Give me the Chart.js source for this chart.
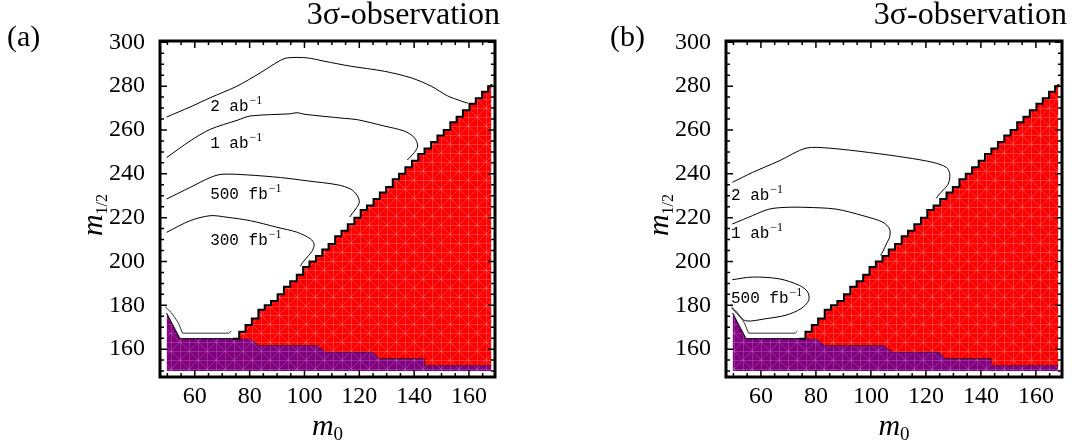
<!DOCTYPE html>
<html><head><meta charset="utf-8">
<script src="https://cdn.jsdelivr.net/npm/chart.js@4.4.0/dist/chart.umd.min.js"></script>
<style>
html,body{margin:0;padding:0;background:#fff;overflow:hidden;}
#wrapA{position:absolute;left:0;top:0;width:545px;height:443px;}
#wrapB{position:absolute;left:545px;top:0;width:532px;height:443px;}
</style></head><body>
<div id="wrapA"><canvas id="cA" width="545" height="443"></canvas></div>
<div id="wrapB"><canvas id="cB" width="532" height="443"></canvas></div>
<script>
// ---- axis ticks ----
const xTickVals = [60, 80, 100, 120, 140, 160];
const yTickVals = [160, 180, 200, 220, 240, 260, 280, 300];

// ---- excluded regions (shared by both panels) ----
const purpleX = [49.7, 52.0, 54.6, 80.3, 83.3, 104.7, 107.7, 124.8, 127.3, 143.8, 144.0, 168.2];
const purpleY = [176.5, 171.0, 164.8, 164.8, 161.8, 161.8, 158.8, 158.8, 155.8, 155.8, 152.7, 152.7];

const redX = [73.9, 76.2, 78.5, 80.8, 83.2, 85.5, 87.8, 90.2, 92.5, 94.8, 97.2, 99.5, 101.8, 104.2,
  106.5, 108.8, 111.2, 113.5, 115.8, 118.2, 120.5, 122.8, 125.2, 127.5, 129.8, 132.2, 134.5, 136.8,
  139.2, 141.5, 143.8, 146.2, 148.5, 150.8, 153.2, 155.5, 157.8, 160.2, 162.5, 164.8, 167.0, 168.2];
const redY = [164.8, 168, 171, 174, 178, 180, 182, 185, 188.5, 191, 194, 197.5, 200, 202.5,
  205.5, 208, 211.5, 214, 217, 220, 223.5, 225.5, 228.5, 231.5, 234, 237.5, 240, 243,
  246, 249, 251.5, 254.5, 257.5, 260, 263.5, 266, 269, 272, 274.5, 277.5, 280, 281];

// thin contour hugging the bottom of the allowed region
const hugX = [49.2, 51.5, 54.0, 55.5, 72.5, 73.3];
const hugY = [179.3, 176.6, 172.0, 167.3, 167.3, 168.3];

// ---- panel (a) contours ----
const a2abX = [49.7, 58.3, 65.6, 75.4, 83.9, 90.7, 93.7, 101.0, 107.1, 116.9, 129.1, 138.9, 146.2, 152.3, 157.2, 159.6];
const a2abY = [265.9, 270.5, 274.7, 280.0, 286.1, 291.4, 292.9, 292.9, 291.4, 289.1, 286.8, 283.8, 280.0, 275.5, 273.2, 272.2];
const a1abX = [49.7, 58.3, 65.6, 75.4, 80.3, 94.9, 97.4, 99.8, 114.5, 119.3, 129.1, 136.4, 140.1, 141.3, 140.1, 138.5, 137.5];
const a1abY = [247.4, 255.0, 260.3, 264.4, 266.4, 267.4, 267.9, 267.2, 265.3, 264.7, 261.8, 259.5, 256.5, 252.7, 249.7, 247.6, 246.3];
const a500X = [49.7, 58.3, 65.6, 69.9, 79.1, 91.3, 101.0, 112.0, 116.9, 119.3, 120.0, 118.7, 117.5, 116.5];
const a500Y = [228.5, 233.8, 238.3, 239.8, 239.5, 238.3, 236.8, 235.0, 233.0, 230.0, 227.0, 224.0, 222.0, 220.3];
const a300X = [49.7, 58.3, 65.6, 71.7, 80.3, 90.0, 97.4, 102.2, 103.5, 102.9, 101.0, 99.3, 98.5];
const a300Y = [213.3, 218.6, 220.9, 220.2, 218.6, 215.6, 213.3, 210.3, 208.0, 205.0, 202.0, 199.5, 197.8];

// ---- panel (b) contours ----
const b2abX = [49.6, 56.9, 66.6, 76.4, 84.9, 99.5, 112.9, 122.6, 127.5, 128.7, 128.1, 126.3, 124.6, 123.8];
const b2abY = [236.1, 240.6, 245.9, 251.7, 251.7, 249.7, 247.4, 245.2, 242.9, 239.8, 235.3, 232.6, 230.3, 228.8];
const b1abX = [49.6, 56.9, 63.0, 69.1, 76.4, 87.3, 97.1, 104.4, 106.8, 106.8, 105.6, 104.4, 103.5];
const b1abY = [217.1, 220.9, 223.9, 224.7, 224.7, 223.9, 220.9, 217.9, 214.8, 211.1, 208.0, 204.7, 202.8];
const b500X = [49.6, 56.9, 66.6, 74.0, 77.0, 77.4, 74.6, 69.1, 61.8, 54.5, 51.5, 49.4];
const b500Y = [191.7, 192.9, 192.1, 189.1, 186.1, 182.3, 178.5, 175.5, 173.9, 172.9, 176.0, 178.8];

// ---- contour labels ----
const labelsA = ['2 ab', '1 ab', '500 fb', '300 fb'];
const labelsAX = [65.6, 65.6, 65.6, 65.6];
const labelsAY = [271.1, 253.9, 230.7, 209.8];
const labelsB = ['2 ab', '1 ab', '500 fb'];
const labelsBX = [49.1, 49.1, 49.1];
const labelsBY = [230.5, 213.0, 183.4];

const pts = (xs, ys) => xs.map((x, i) => ({x: x, y: ys[i]}));

function makePattern(base, line) {
  const c = document.createElement('canvas'); c.width = 18; c.height = 18;
  const g = c.getContext('2d');
  g.fillStyle = base; g.fillRect(0, 0, 18, 18);
  g.strokeStyle = line; g.lineWidth = 1;
  g.beginPath();
  g.moveTo(0.5, 0); g.lineTo(0.5, 18); g.moveTo(9.5, 0); g.lineTo(9.5, 18);
  g.moveTo(0, 0.5); g.lineTo(18, 0.5); g.moveTo(0, 9.5); g.lineTo(18, 9.5);
  g.moveTo(0, 0); g.lineTo(18, 18); g.moveTo(18, 0); g.lineTo(0, 18);
  g.stroke();
  return g.createPattern(c, 'repeat');
}
const redPat = makePattern('#ff0000', 'rgba(255,120,120,0.45)');
const purPat = makePattern('#800080', 'rgba(190,110,190,0.4)');

const decor = {
  id: 'decor',
  afterDatasetsDraw(chart, args, o) {
    const ctx = chart.ctx, a = chart.chartArea, x = chart.scales.x, y = chart.scales.y;
    ctx.save();
    ctx.fillStyle = '#000';
    ctx.textAlign = 'left'; ctx.textBaseline = 'alphabetic';
    o.labels.forEach((t, i) => {
      const px = x.getPixelForValue(o.lx[i]), py = y.getPixelForValue(o.ly[i]) + 5;
      ctx.font = '16px "Liberation Mono"';
      ctx.fillText(t, px, py);
      const w = ctx.measureText(t).width;
      ctx.font = '12px "Liberation Serif"';
      ctx.fillText('\u22121', px + w + 1, py - 7);
    });
    // frame
    ctx.strokeStyle = '#000'; ctx.lineWidth = 3;
    ctx.strokeRect(a.left, a.top, a.right - a.left, a.bottom - a.top);
    // inward ticks on all sides
    ctx.lineWidth = 1.5;
    ctx.beginPath();
    for (let v = 50; v <= 165; v += 5) {
      const p = x.getPixelForValue(v), L = xTickVals.includes(v) ? 7 : 4;
      ctx.moveTo(p, a.bottom); ctx.lineTo(p, a.bottom - L);
      ctx.moveTo(p, a.top); ctx.lineTo(p, a.top + L);
    }
    for (let v = 150; v <= 300; v += 5) {
      const p = y.getPixelForValue(v), L = yTickVals.includes(v) ? 7 : 4;
      ctx.moveTo(a.left, p); ctx.lineTo(a.left + L, p);
      ctx.moveTo(a.right, p); ctx.lineTo(a.right - L, p);
    }
    ctx.stroke();
    // x tick labels
    ctx.font = '24px "Liberation Serif"';
    ctx.textAlign = 'center';
    xTickVals.forEach(v => ctx.fillText(String(v), x.getPixelForValue(v), 403));
    // panel letter and title
    ctx.font = '30px "Liberation Serif"';
    ctx.textAlign = 'left';
    ctx.fillText(o.letter, o.letterX, 46);
    ctx.font = '32px "Liberation Serif"';
    ctx.textAlign = 'right';
    ctx.fillText('3\u03c3-observation', o.titleRight, 24);
    // x-axis title m_0
    const cx = (a.left + a.right) / 2;
    ctx.font = 'italic 30px "Liberation Serif"';
    const mw = ctx.measureText('m').width;
    ctx.font = '19px "Liberation Serif"';
    const zw = ctx.measureText('0').width;
    const sx = cx - (mw + zw) / 2;
    ctx.textAlign = 'left';
    ctx.font = 'italic 30px "Liberation Serif"';
    ctx.fillText('m', sx, 435);
    ctx.font = '19px "Liberation Serif"';
    ctx.fillText('0', sx + mw, 440);
    // y-axis title m_{1/2}
    ctx.save();
    ctx.translate(o.yTitleX, 215);
    ctx.rotate(-Math.PI / 2);
    ctx.font = '16px "Liberation Serif"';
    const hw = ctx.measureText('1/2').width;
    const tot = mw + hw;
    ctx.font = 'italic 30px "Liberation Serif"';
    ctx.fillText('m', -tot / 2, 0);
    ctx.font = '16px "Liberation Serif"';
    ctx.fillText('1/2', -tot / 2 + mw, 5);
    ctx.restore();
    ctx.restore();
  }
};

function lineDS(xs, ys, color, width) {
  return {data: pts(xs, ys), borderColor: color, borderWidth: width, pointRadius: 0,
    fill: false, tension: 0.3, order: 0};
}

function makeChart(id, axisW, padRight, contours, cfg) {
  const datasets = [
    {data: pts(purpleX, purpleY), borderColor: '#000', borderWidth: 1, backgroundColor: purPat,
     fill: {value: 150}, pointRadius: 0, tension: 0, order: 3},
    {data: pts(redX, redY), borderColor: '#000', borderWidth: 2, backgroundColor: redPat,
     fill: 0, stepped: 'before', pointRadius: 0, tension: 0, order: 2},
    Object.assign(lineDS(hugX, hugY, '#333', 1), {tension: 0, order: 1})
  ].concat(contours);
  return new Chart(document.getElementById(id), {
    type: 'line',
    data: {datasets: datasets},
    options: {
      responsive: false, animation: false, events: [],
      layout: {padding: {left: 0, right: padRight, top: 41, bottom: 0}},
      plugins: {legend: {display: false}, tooltip: {enabled: false}, decor: cfg},
      scales: {
        x: {type: 'linear', min: 47.3, max: 169.5,
            afterBuildTicks: s => { s.ticks = xTickVals.map(v => ({value: v})); },
            afterFit: s => { s.height = 66; },
            grid: {display: false}, border: {display: false},
            ticks: {display: false}},
        y: {type: 'linear', min: 147.3, max: 300.6,
            afterBuildTicks: s => { s.ticks = yTickVals.map(v => ({value: v})); },
            afterFit: s => { s.width = axisW; },
            grid: {display: false}, border: {display: false},
            ticks: {color: '#000', padding: 7, autoSkip: false,
                    font: {family: 'Liberation Serif', size: 24}}}
      }
    },
    plugins: [decor]
  });
}

makeChart('cA', 160, 50, [
  lineDS(a2abX, a2abY, '#000', 1), lineDS(a1abX, a1abY, '#000', 1),
  lineDS(a500X, a500Y, '#000', 1), lineDS(a300X, a300Y, '#000', 1)
], {labels: labelsA, lx: labelsAX, ly: labelsAY, letter: '(a)', letterX: 7, titleRight: 500, yTitleX: 102});

makeChart('cB', 181, 15, [
  lineDS(b2abX, b2abY, '#000', 1), lineDS(b1abX, b1abY, '#000', 1),
  lineDS(b500X, b500Y, '#000', 1)
], {labels: labelsB, lx: labelsBX, ly: labelsBY, letter: '(b)', letterX: 65, titleRight: 522, yTitleX: 123});
</script></body></html>
